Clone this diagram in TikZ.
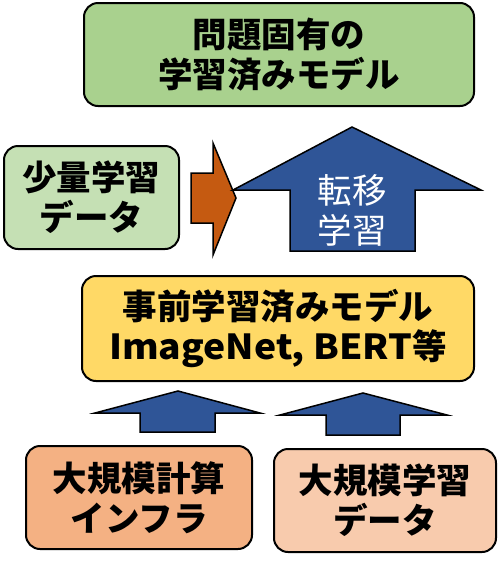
\documentclass[tikz,border=0pt]{standalone}
\usepackage{fontspec}
\setmainfont{Noto Sans CJK JP}
\newfontfamily\widelatin{Noto Sans CJK JP}[FakeStretch=1.08]
\definecolor{topgreen}{HTML}{A9D18E}
\definecolor{lightgreen}{HTML}{C5E0B4}
\definecolor{ylw}{HTML}{FFD966}
\definecolor{orng}{HTML}{C55A11}
\definecolor{blu}{HTML}{2F5597}
\definecolor{salmon}{HTML}{F4B183}
\definecolor{peach}{HTML}{F8CBAD}
\begin{document}
\begin{tikzpicture}[x=1pt,y=-1pt,
  box/.style={draw=black, line width=2pt, rounded corners=14pt, inner sep=0pt, align=center,
    font=\bfseries\fontsize{34.5}{40}\selectfont},
  blk/.style={draw=black, line width=1.5pt, line join=miter}]
\useasboundingbox (0,0) rectangle (500,563);
\node[box, fill=topgreen, minimum width=390pt, minimum height=103pt] (top) at (279,54.5) {問題固有の\\学習済みモデル};
\node[box, fill=lightgreen, minimum width=175pt, minimum height=103pt] (few) at (91.5,197.5) {少量学習\\データ};
\node[box, fill=ylw, minimum width=392pt, minimum height=105pt] (pre) at (278,328.5) {事前学習済みモデル\\{\widelatin\bfseries ImageNet, BERT}等};
\node[box, fill=salmon, minimum width=226pt, minimum height=103pt] (infra) at (139,497.5) {大規模計算\\インフラ};
\node[box, fill=peach, minimum width=222pt, minimum height=103pt] (data) at (385,500.5) {大規模学習\\データ};
% orange arrow
\draw[blk, fill=orng] (191,173) -- (213,173) -- (213,143) -- (236,198) -- (213,255) -- (213,223) -- (191,223) -- cycle;
% big blue arrow
\draw[blk, fill=blu] (352,127) -- (481,190) -- (415,190) -- (415,251) -- (290,251) -- (290,190) -- (233,190) -- cycle;
\node[text=white, align=center, font=\fontsize{34.5}{40}\selectfont] (tl) at (352,210) {転移\\学習};
% small blue arrows
\draw[blk, fill=blu] (178,391) -- (260,413) -- (215,413) -- (215,432) -- (140,432) -- (140,413) -- (95,413) -- cycle;
\draw[blk, fill=blu] (363,393) -- (447,415) -- (400,415) -- (400,435) -- (326,435) -- (326,415) -- (280,415) -- cycle;
\end{tikzpicture}
\end{document}
